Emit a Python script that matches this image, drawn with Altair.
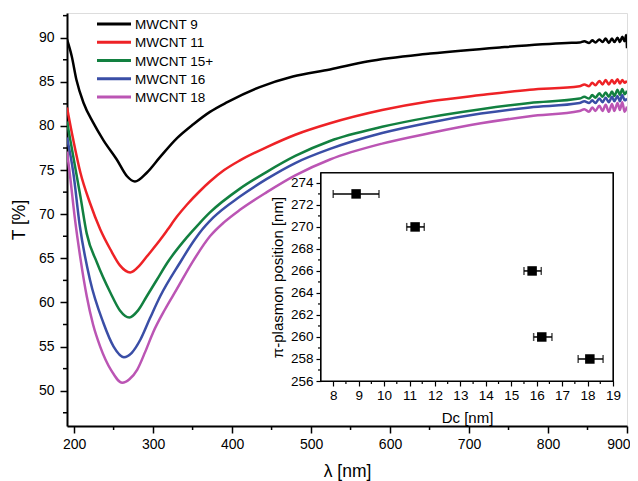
import altair as alt
import pandas as pd

# ---------------- data ----------------
series_names = ["MWCNT 9", "MWCNT 11", "MWCNT 15+", "MWCNT 16", "MWCNT 18"]
series_colors = ["#000000", "#ee2226", "#128040", "#3a4ea6", "#bb55b4"]

wl_mwcnt9 = [191, 197, 203, 212, 224, 237, 254, 267, 277, 292, 309, 330, 351, 372, 394, 435,
             477, 524, 571, 651, 739, 824, 840, 846, 852, 856, 860, 865, 869, 873, 877,
             881, 884, 888, 891, 894, 897, 899, 900]
t_mwcnt9 = [89.8, 87.9, 85.2, 82.6, 80.4, 78.4, 76.2, 74.3, 73.7, 74.7, 76.5, 78.6, 80.2, 81.6, 82.7, 84.4,
            85.6, 86.4, 87.3, 88.2, 88.9, 89.4, 89.45, 89.6, 89.4, 89.7, 89.45, 89.8, 89.5, 89.9, 89.4,
            89.9, 89.5, 90.0, 89.5, 90.1, 89.6, 90.3, 88.8]

wl_mwcnt11 = [191, 199, 208, 220, 233, 246, 258, 271, 283, 292, 309, 318, 330, 343, 359, 372, 390,
              410, 444, 480, 524, 590, 651, 715, 777, 840, 846, 852, 856, 860, 865, 869, 873, 877,
              881, 884, 888, 891, 894, 897, 900]
t_mwcnt11 = [82.1, 78.4, 74.7, 71.3, 68.3, 66.0, 64.2, 63.4, 64.2, 65.2, 67.1, 68.2, 69.7, 71.1, 72.6, 73.7, 75.0,
             76.1, 77.6, 79.0, 80.3, 81.8, 82.8, 83.5, 84.1, 84.5, 84.7, 84.5, 84.9, 84.6, 85.1, 84.7, 85.2, 84.7,
             85.2, 84.8, 85.3, 84.8, 85.2, 84.9, 85.1]

wl_mwcnt15 = [191, 199, 208, 216, 229, 246, 258, 270, 281, 292, 305, 318, 343, 359, 372, 410,
              444, 480, 524, 590, 651, 715, 777, 840, 846, 852, 856, 860, 865, 869, 873, 877,
              881, 884, 888, 891, 894, 897, 900]
t_mwcnt15 = [80.5, 76.5, 72.0, 67.8, 64.5, 61.1, 59.1, 58.3, 59.1, 60.7, 62.6, 64.5, 67.4, 69.0, 70.2, 72.9,
             74.8, 76.6, 78.3, 79.9, 81.0, 81.9, 82.6, 83.1, 83.3, 83.1, 83.5, 83.2, 83.7, 83.3, 83.8, 83.3,
             83.9, 83.4, 84.1, 83.5, 84.2, 83.6, 84.0]

wl_mwcnt16 = [191, 199, 207, 220, 237, 250, 263, 273, 284, 296, 309, 334, 351, 359, 376, 410,
              444, 480, 524, 590, 651, 715, 777, 840, 846, 852, 856, 860, 865, 869, 873, 877,
              881, 884, 888, 891, 894, 897, 900]
t_mwcnt16 = [78.7, 74.7, 68.8, 62.6, 57.7, 55.0, 53.8, 54.3, 55.8, 58.2, 60.7, 64.5, 66.9, 67.9, 69.6, 72.0,
             74.0, 75.8, 77.4, 79.2, 80.4, 81.4, 82.1, 82.6, 82.8, 82.6, 82.9, 82.6, 83.1, 82.7, 83.2, 82.7,
             83.3, 82.8, 83.4, 82.8, 83.5, 82.9, 83.1]

wl_mwcnt18 = [191, 194, 201, 208, 216, 224, 233, 247, 261, 270, 280, 290, 300, 315, 330, 350, 372, 390,
              410, 444, 480, 524, 590, 651, 715, 777, 840, 846, 852, 856, 860, 865, 869, 873, 877,
              881, 884, 888, 891, 894, 897, 900]
t_mwcnt18 = [77.1, 75.0, 69.5, 65.0, 60.7, 57.5, 55.0, 52.3, 50.9, 51.3, 52.4, 54.4, 56.6, 59.2, 61.5, 64.6, 67.5, 69.1,
             70.5, 72.5, 74.4, 76.2, 78.0, 79.2, 80.3, 81.1, 81.7, 81.9, 81.6, 82.1, 81.7, 82.3, 81.7, 82.4, 81.6,
             82.5, 81.7, 82.6, 81.8, 82.7, 81.6, 82.2]

# inset: pi-plasmon position vs. outer diameter
dc_center = [8.9, 11.22, 15.82, 16.2, 18.09]
dc_low = [8.0, 10.89, 15.5, 15.88, 17.63]
dc_high = [9.8, 11.58, 16.18, 16.6, 18.61]
plasmon_pos = [273, 270, 266, 260, 258]

main_x_ticks = [200, 300, 400, 500, 600, 700, 800, 900]
main_x_minor = [250, 350, 450, 550, 650, 750, 850]
main_y_ticks = [50, 55, 60, 65, 70, 75, 80, 85, 90]
main_y_minor = [47.5, 52.5, 57.5, 62.5, 67.5, 72.5, 77.5, 82.5, 87.5, 92.5]
inset_x_ticks = [8, 9, 10, 11, 12, 13, 14, 15, 16, 17, 18, 19]
inset_x_minor = [8.5, 9.5, 10.5, 11.5, 12.5, 13.5, 14.5, 15.5, 16.5, 17.5, 18.5]
inset_y_ticks = [256, 258, 260, 262, 264, 266, 268, 270, 272, 274]
inset_y_minor = [257, 259, 261, 263, 265, 267, 269, 271, 273]

# ---------------- tables ----------------
rows = []
for name, wl, t in zip(series_names,
                       [wl_mwcnt9, wl_mwcnt11, wl_mwcnt15, wl_mwcnt16, wl_mwcnt18],
                       [t_mwcnt9, t_mwcnt11, t_mwcnt15, t_mwcnt16, t_mwcnt18]):
    for w, v in zip(wl, t):
        rows.append({"series": name, "wl": w, "T": v})
df = pd.DataFrame(rows)

inset_df = pd.DataFrame({"dc": dc_center, "lo": dc_low, "hi": dc_high, "pos": plasmon_pos})
legend_df = pd.DataFrame({"series": series_names, "idx": list(range(len(series_names)))})

# ---------------- layout ----------------
W, H = 560, 413
FONT = "Liberation Sans"
X_DOM = [191, 900]
Y_DOM = [46, 92.8]
IX_DOM = [7.52, 19]
IY_DOM = [256, 274.9]
IX_RANGE = [254, 546]
IY_RANGE = [368, 160]

xs = alt.Scale(domain=X_DOM, nice=False, zero=False)
ys = alt.Scale(domain=Y_DOM, nice=False, zero=False)
ixs = alt.Scale(domain=IX_DOM, nice=False, zero=False, range=IX_RANGE)
iys = alt.Scale(domain=IY_DOM, nice=False, zero=False, range=IY_RANGE)
color_scale = alt.Scale(domain=series_names, range=series_colors)

common_axis = dict(grid=False, domainColor="black", tickColor="black", labelColor="black",
                   titleColor="black", labelFont=FONT, titleFont=FONT, titleFontWeight="normal",
                   labelOverlap=False)

x_main_axis = alt.Axis(values=main_x_ticks, orient="bottom", title="λ [nm]", tickSize=7, tickWidth=1.5,
                       domainWidth=2, labelFontSize=14, titleFontSize=17.5, labelPadding=4,
                       titlePadding=11, labelFlush=True, labelFlushOffset=3, **common_axis)
y_main_axis = alt.Axis(values=main_y_ticks, orient="left", title="T [%]", tickSize=7, tickWidth=1.5,
                       domainWidth=2, labelFontSize=14, titleFontSize=17.5, labelPadding=6,
                       titlePadding=10, labelFlush=False, **common_axis)
ix_axis = alt.Axis(values=inset_x_ticks, orient="bottom", offset=-(H - IY_RANGE[0]), title="Dc [nm]",
                   tickSize=5, tickWidth=1.2, domainWidth=1.2, labelFontSize=13.5, titleFontSize=15,
                   labelPadding=2, titlePadding=9, labelFlush=False, **common_axis)
iy_axis = alt.Axis(values=inset_y_ticks, orient="left", offset=-IX_RANGE[0],
                   title="π-plasmon position [nm]", tickSize=5, tickWidth=1.2, domainWidth=1.2,
                   labelFontSize=13.5, titleFontSize=15, labelPadding=3, titlePadding=5,
                   labelFlush=False, **common_axis)

# ---------------- main spectra ----------------
lines = alt.Chart(df).mark_line(strokeWidth=2.5, interpolate="monotone", clip=True).encode(
    x=alt.X("wl:Q", scale=xs, axis=x_main_axis),
    y=alt.Y("T:Q", scale=ys, axis=y_main_axis),
    color=alt.Color("series:N", sort=series_names, scale=color_scale, legend=None),
    order=alt.Order("wl:Q"),
)
main_x_minor_rules = alt.Chart(pd.DataFrame({"v": main_x_minor})).mark_rule(
    color="black", strokeWidth=1.5).encode(
    x=alt.X("v:Q", scale=xs, axis=x_main_axis), y=alt.value(H), y2=alt.value(H + 4))
main_y_minor_rules = alt.Chart(pd.DataFrame({"v": main_y_minor})).mark_rule(
    color="black", strokeWidth=1.5).encode(
    y=alt.Y("v:Q", scale=ys, axis=y_main_axis), x=alt.value(0), x2=alt.value(-4))
main_group = alt.layer(lines, main_x_minor_rules, main_y_minor_rules)

# ---------------- legend (drawn from the series list) ----------------
leg_y = alt.Y("idx:Q", axis=None, scale=alt.Scale(domain=[0, len(series_names) - 1], range=[11, 84],
                                                 nice=False, zero=False))
legend_lines = alt.Chart(legend_df).mark_rule(strokeWidth=3).encode(
    x=alt.value(30), x2=alt.value(64), y=leg_y,
    color=alt.Color("series:N", scale=color_scale, legend=None),
)
legend_text = alt.Chart(legend_df).mark_text(
    align="left", baseline="middle", fontSize=13.5, font=FONT, color="black", dy=1).encode(
    x=alt.value(68), y=leg_y, text="series:N",
)
legend_group = alt.layer(legend_lines, legend_text)

# ---------------- inset ----------------
inset_frame = alt.Chart(inset_df).mark_rect(fill="white", stroke="black", strokeWidth=1.2).encode(
    x=alt.datum(IX_DOM[0], scale=ixs, axis=ix_axis),
    x2=alt.datum(IX_DOM[1]),
    y=alt.datum(IY_DOM[0], scale=iys, axis=iy_axis),
    y2=alt.datum(IY_DOM[1]),
)
inset_err = alt.Chart(inset_df).mark_errorbar(
    ticks={"size": 8, "thickness": 1.5, "color": "black"},
    rule={"strokeWidth": 1.5, "color": "black"},
).encode(
    x=alt.X("lo:Q", scale=ixs, axis=ix_axis),
    x2="hi:Q",
    y=alt.Y("pos:Q", scale=iys, axis=iy_axis),
)
inset_pts = alt.Chart(inset_df).mark_square(size=90, color="black", opacity=1).encode(
    x=alt.X("dc:Q", scale=ixs, axis=ix_axis),
    y=alt.Y("pos:Q", scale=iys, axis=iy_axis),
)
inset_x_minor_rules = alt.Chart(pd.DataFrame({"v": inset_x_minor})).mark_rule(
    color="black", strokeWidth=1.2).encode(
    x=alt.X("v:Q", scale=ixs, axis=ix_axis), y=alt.value(IY_RANGE[0]), y2=alt.value(IY_RANGE[0] + 3))
inset_y_minor_rules = alt.Chart(pd.DataFrame({"v": inset_y_minor})).mark_rule(
    color="black", strokeWidth=1.2).encode(
    y=alt.Y("v:Q", scale=iys, axis=iy_axis), x=alt.value(IX_RANGE[0]), x2=alt.value(IX_RANGE[0] - 3))
inset_group = alt.layer(inset_frame, inset_err, inset_pts, inset_x_minor_rules, inset_y_minor_rules)

chart = alt.layer(main_group, inset_group, legend_group).resolve_scale(
    x="independent", y="independent", color="independent"
).properties(
    width=W, height=H,
    autosize=alt.AutoSizeParams(type="none"),
    padding={"left": 59, "top": 5, "right": 3, "bottom": 55},
).configure_view(
    stroke="black", strokeWidth=2
).configure(
    font=FONT
)

chart.save("out.html", embed_options={"renderer": "svg", "actions": False})
